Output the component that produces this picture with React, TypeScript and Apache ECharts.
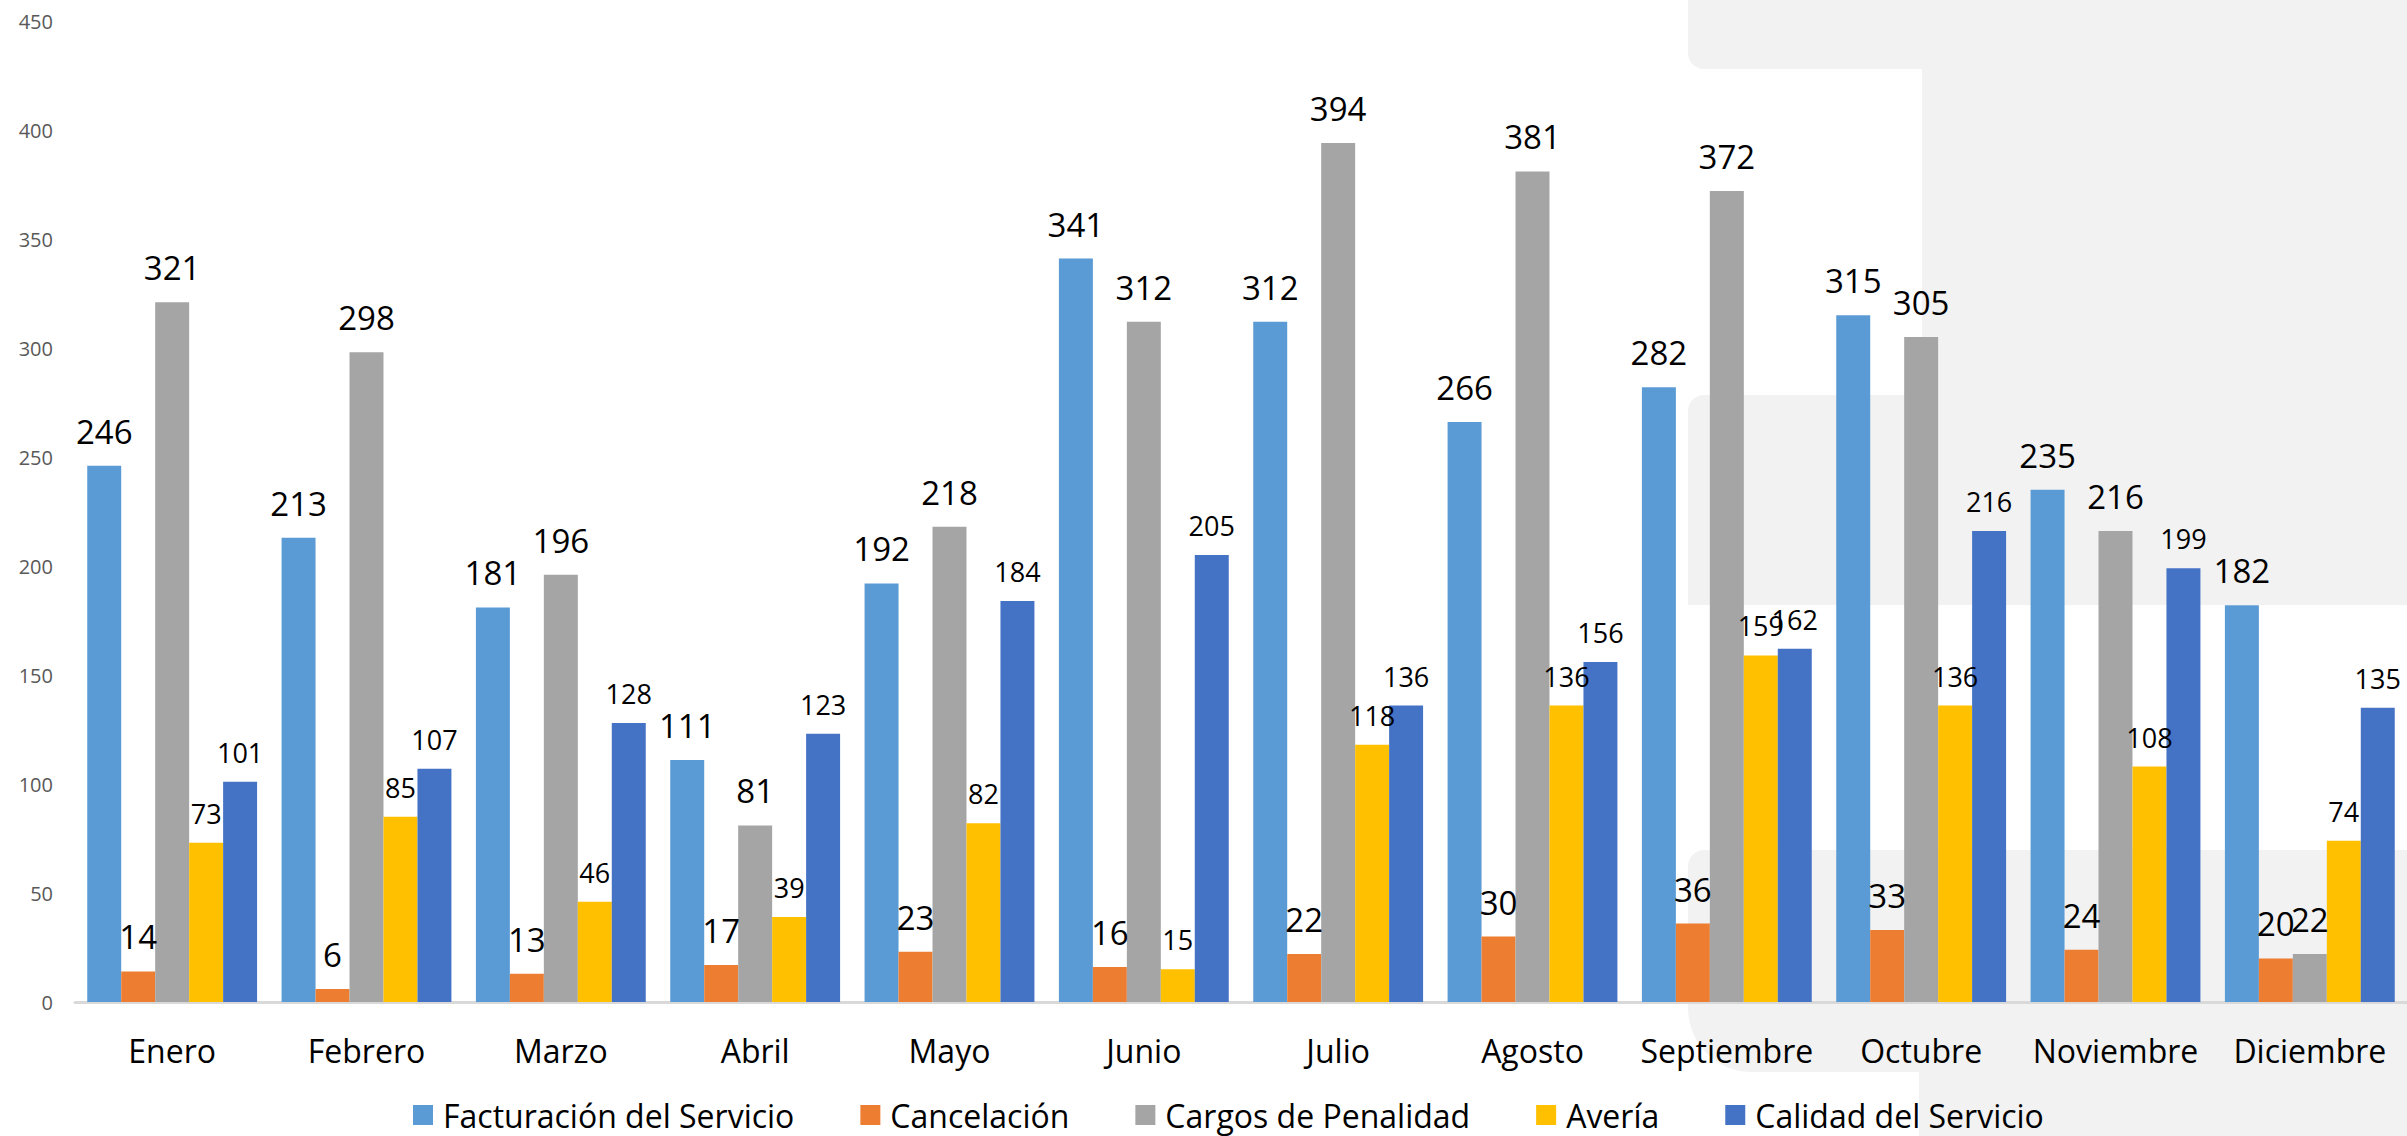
import React, { useEffect, useRef } from "react";
import * as echarts from "echarts";

const months = ["Enero", "Febrero", "Marzo", "Abril", "Mayo", "Junio", "Julio", "Agosto", "Septiembre", "Octubre", "Noviembre", "Diciembre"];
const facturacion = [246, 213, 181, 111, 192, 341, 312, 266, 282, 315, 235, 182];
const cancelacion = [14, 6, 13, 17, 23, 16, 22, 30, 36, 33, 24, 20];
const cargos = [321, 298, 196, 81, 218, 312, 394, 381, 372, 305, 216, 22];
const averia = [73, 85, 46, 39, 82, 15, 118, 136, 159, 136, 108, 74];
const calidad = [101, 107, 128, 123, 184, 205, 136, 156, 162, 216, 199, 135];

const seriesNames = ["Facturación del Servicio", "Cancelación", "Cargos de Penalidad", "Avería", "Calidad del Servicio"];
const seriesData = [facturacion, cancelacion, cargos, averia, calidad];
const seriesColors = ["#5B9BD5", "#ED7D31", "#A5A5A5", "#FFC000", "#4472C4"];
const labelSizes = [33, 33, 33, 27, 27];
const labelDistances = [18, 18, 18, 16, 16];

const FONT = "'Open Sans', 'Noto Sans', sans-serif";
const BG_GREY = "#F1F2F1";

export default function App() {
  const ref = useRef<HTMLDivElement>(null);

  useEffect(() => {
    if (!ref.current) return;
    const chart = echarts.init(ref.current, undefined, { renderer: "svg" });

    const bg = (x: number, y: number, w: number, h: number, r: number[]) => ({
      type: "rect",
      silent: true,
      z: -10,
      shape: { x, y, width: w, height: h, r },
      style: { fill: BG_GREY },
    });

    chart.setOption({
      animation: false,
      backgroundColor: "#FFFFFF",
      textStyle: { fontFamily: FONT },
      graphic: [
        bg(1688, -20, 760, 89, [0, 0, 0, 16]),
        bg(1922, -20, 526, 625, [0, 0, 0, 0]),
        bg(1688, 395, 760, 210, [16, 0, 0, 0]),
        bg(1688, 850, 760, 222, [16, 0, 0, 64]),
        bg(1919, 1000, 529, 160, [0, 0, 0, 0]),
      ],
      grid: { left: 75, right: -8, top: 21, bottom: 134, containLabel: false },
      legend: {
        left: 413,
        top: 1099,
        padding: 0,
        itemWidth: 20,
        itemHeight: 20,
        itemGap: 66,
        icon: "rect",
        textStyle: { fontSize: 32, lineHeight: 32, color: "#000000", fontFamily: FONT, padding: [0, 0, 0, 5] },
        data: seriesNames,
      },
      xAxis: {
        type: "category",
        data: months,
        axisLine: { show: true, lineStyle: { color: "#D9D9D9", width: 3 } },
        axisTick: { show: false },
        axisLabel: { fontSize: 32, color: "#000000", margin: 32, fontFamily: FONT, interval: 0 },
      },
      yAxis: {
        type: "value",
        min: 0,
        max: 450,
        interval: 50,
        axisLine: { show: false },
        axisTick: { show: false },
        splitLine: { show: false },
        axisLabel: { fontSize: 20, color: "#595959", margin: 22, fontFamily: FONT },
      },
      series: seriesNames.map((name, i) => ({
        name,
        type: "bar",
        data: seriesData[i],
        barGap: "0%",
        barCategoryGap: "12.6%",
        itemStyle: { color: seriesColors[i] },
        label: {
          show: true,
          position: "top",
          distance: labelDistances[i],
          fontSize: labelSizes[i],
          color: "#000000",
          fontFamily: FONT,
        },
      })),
    });

    return () => chart.dispose();
  }, []);

  return (
    <div
      ref={ref}
      style={{ position: "fixed", left: 0, top: 0, width: 2407, height: 1136 }}
    />
  );
}
